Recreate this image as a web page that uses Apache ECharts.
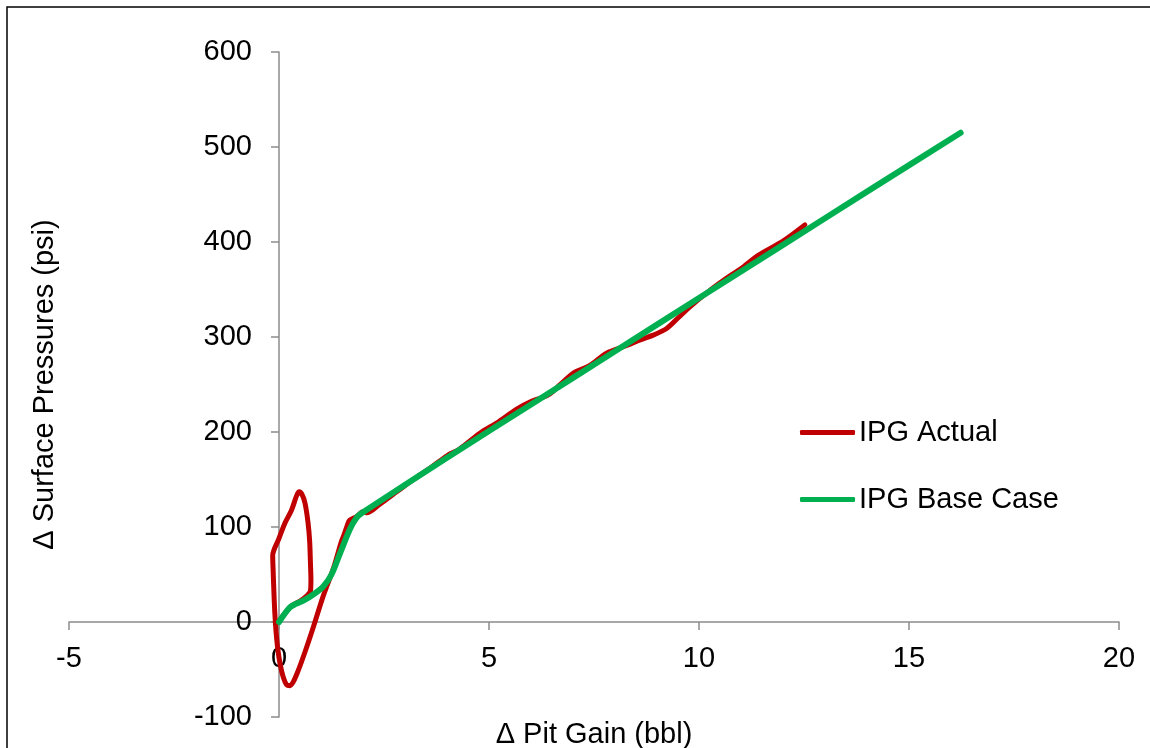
<!DOCTYPE html>
<html>
<head>
<meta charset="utf-8">
<title>IPG pressure vs pit gain</title>
<script src="https://cdn.jsdelivr.net/npm/echarts@6/dist/echarts.min.js"></script>
<style>
  html, body { margin: 0; padding: 0; background: #ffffff; }
  #chart { width: 1150px; height: 748px; }
</style>
</head>
<body>
<div id="chart"></div>
<script>
// Axis ticks
const xTicks = [-5, 0, 5, 10, 15, 20];
const yTicks = [-100, 0, 100, 200, 300, 400, 500, 600];

// IPG Actual: pit gain (bbl) and surface pressure change (psi)
const actualGain = [
  0, 0.12, 0.3, 0.5, 0.65, 0.75, 0.76, 0.75, 0.73, 0.69, 0.62, 0.55, 0.48, 0.42, 0.3, 0.14, 0, -0.15,
  -0.14, -0.12, -0.1, -0.07, -0.03, 0.03, 0.1, 0.18, 0.26, 0.34, 0.45, 0.6, 0.82, 1.05, 1.3, 1.48,
  1.55, 1.62, 1.68, 1.85, 2.0, 2.1, 2.4, 2.8, 3.2, 3.6, 4.0, 4.3, 4.79, 5.2, 5.66, 6.0, 6.41, 6.7,
  7.01, 7.4, 7.8, 8.28, 8.6, 8.91, 9.23, 9.5, 9.79, 10.2, 10.66, 11.0, 11.41, 12.0, 12.52
];
const actualPressure = [
  0, 8, 17, 22, 27, 33, 45, 60, 85, 105, 125, 134, 137, 133, 118, 104, 88, 70,
  55, 30, 10, -10, -28, -45, -58, -66, -67, -63, -52, -34, -5, 27, 57, 84,
  92, 101, 107, 111, 116, 115, 124, 137, 150, 162, 175, 182, 199, 210, 224, 232, 239, 250,
  262, 270, 283, 291, 297, 302, 309, 320, 332, 347, 362, 372, 386, 401, 418
];

// IPG Base Case
const baseGain = [0, 0.25, 0.4, 0.6, 0.85, 1.05, 1.25, 1.45, 1.69, 1.85, 1.95, 2.1, 4, 6, 8, 10, 12, 14, 16.23];
const basePressure = [0, 15, 19, 23, 30, 37, 50, 72, 98, 110, 114, 118.5, 173, 229, 285, 341, 397, 453, 515];

const actualData = actualGain.map((x, i) => [x, actualPressure[i]]);
const baseData = baseGain.map((x, i) => [x, basePressure[i]]);

const FONT = 'Liberation Sans, Arial, sans-serif';
const AXIS_GREY = '#8c8c8c';

// Grid geometry, used to shift each axis onto the other's zero line
const GRID = { left: 69, right: 31, top: 52, bottom: 31 };
const plotW = 1150 - GRID.left - GRID.right;
const plotH = 748 - GRID.top - GRID.bottom;
const xZeroShift = -plotW * (0 - xTicks[0]) / (xTicks[xTicks.length - 1] - xTicks[0]);
const yZeroShift = -plotH * (0 - yTicks[0]) / (yTicks[yTicks.length - 1] - yTicks[0]);

const chart = echarts.init(document.getElementById('chart'), null, { renderer: 'canvas' });

chart.setOption({
  animation: false,
  backgroundColor: '#ffffff',
  textStyle: { fontFamily: FONT },
  graphic: [{
    type: 'rect',
    shape: { x: 7, y: 7, width: 1200, height: 800 },
    style: { fill: 'none', stroke: '#000000', lineWidth: 1.5 },
    silent: true
  }],
  grid: Object.assign({ containLabel: false, outerBoundsMode: 'none' }, GRID),
  legend: {
    orient: 'vertical',
    left: 795,
    top: 413,
    itemWidth: 55,
    itemHeight: 5,
    itemGap: 38,
    icon: 'roundRect',
    textStyle: { fontFamily: FONT, fontSize: 29, color: '#000000', padding: [0, 0, 0, -1] },
    data: ['IPG Actual', 'IPG Base Case']
  },
  xAxis: {
    type: 'value',
    position: 'bottom',
    offset: yZeroShift,
    min: xTicks[0],
    max: xTicks[xTicks.length - 1],
    interval: 5,
    name: '\u0394 Pit Gain (bbl)',
    nameLocation: 'middle',
    nameGap: 98,
    nameTextStyle: { fontFamily: FONT, fontSize: 29, color: '#000000' },
    axisLine: { show: true, onZero: false, lineStyle: { color: AXIS_GREY, width: 1.5 } },
    axisTick: { show: true, inside: false, length: 8, lineStyle: { color: AXIS_GREY, width: 1.5 } },
    axisLabel: { fontFamily: FONT, fontSize: 29, color: '#000000', margin: 22 },
    splitLine: { show: false }
  },
  yAxis: {
    type: 'value',
    position: 'left',
    offset: xZeroShift,
    min: yTicks[0],
    max: yTicks[yTicks.length - 1],
    interval: 100,
    name: '\u0394 Surface Pressures (psi)',
    nameLocation: 'middle',
    nameGap: 220,
    nameRotate: 90,
    nameTextStyle: { fontFamily: FONT, fontSize: 29, color: '#000000' },
    axisLine: { show: true, onZero: false, lineStyle: { color: AXIS_GREY, width: 1.5 } },
    axisTick: { show: true, inside: false, length: 8, lineStyle: { color: AXIS_GREY, width: 1.5 } },
    axisLabel: { fontFamily: FONT, fontSize: 29, color: '#000000', margin: 27 },
    splitLine: { show: false }
  },
  series: [
    {
      name: 'IPG Actual',
      type: 'line',
      data: actualData,
      showSymbol: false,
      symbol: 'none',
      smooth: 0.3,
      itemStyle: { color: '#C00000' },
      lineStyle: { color: '#C00000', width: 5, cap: 'round', join: 'round' },
      z: 2
    },
    {
      name: 'IPG Base Case',
      type: 'line',
      data: baseData,
      showSymbol: false,
      symbol: 'none',
      smooth: 0.3,
      itemStyle: { color: '#00B050' },
      lineStyle: { color: '#00B050', width: 6, cap: 'round', join: 'round' },
      z: 3
    }
  ]
});
</script>
</body>
</html>
